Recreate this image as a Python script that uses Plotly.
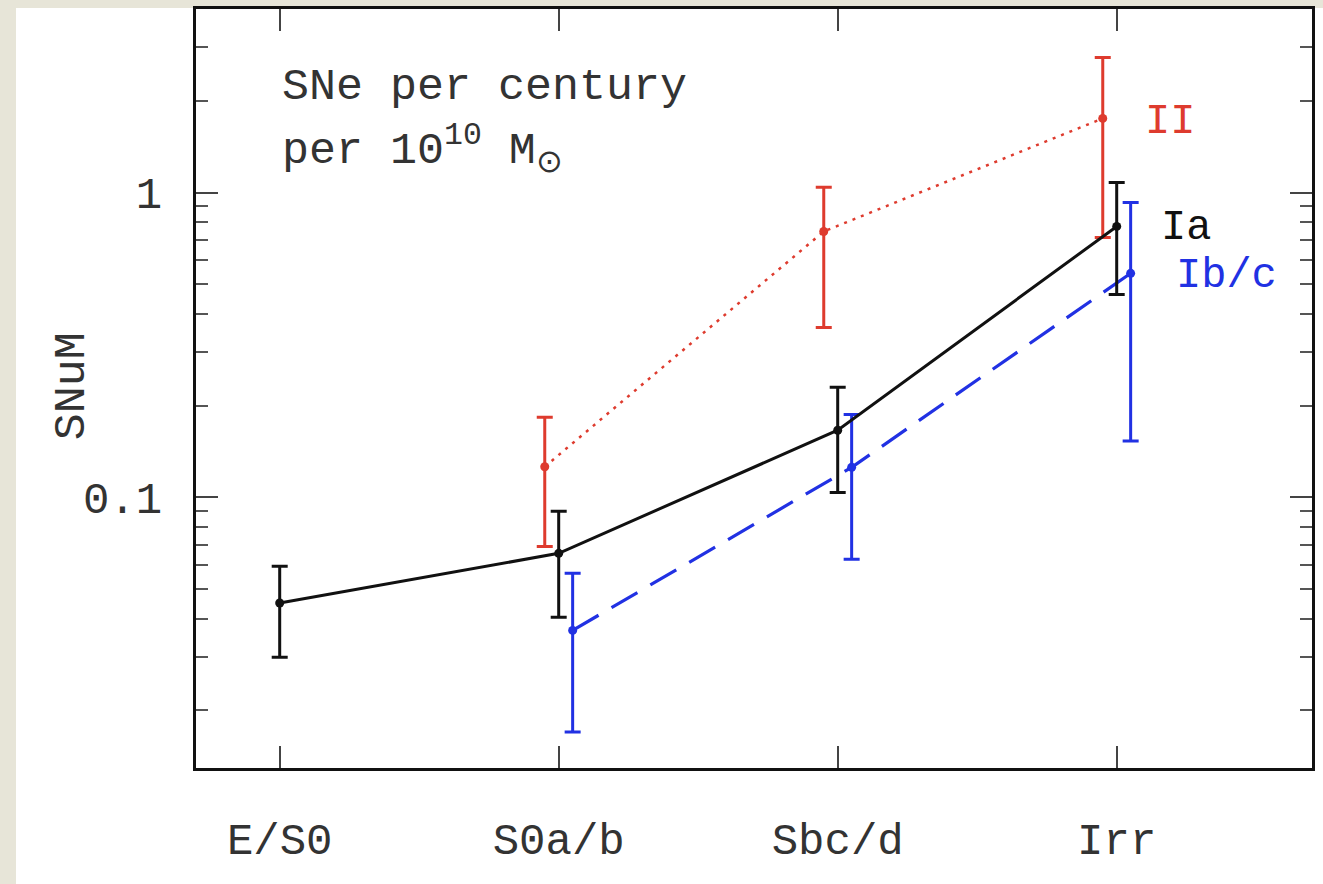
import math
import plotly.graph_objects as go

# ---- data ----
categories = ["E/S0", "S0a/b", "Sbc/d", "Irr"]

ia_vals = [0.045, 0.0655, 0.166, 0.774]
ia_hi = [0.0594, 0.090, 0.2296, 1.078]
ia_lo = [0.0299, 0.0404, 0.1038, 0.463]

ii_vals = [None, 0.126, 0.745, 1.75]
ii_hi = [None, 0.183, 1.04, 2.77]
ii_lo = [None, 0.069, 0.361, 0.712]

ibc_vals = [None, 0.0366, 0.1254, 0.543]
ibc_hi = [None, 0.0564, 0.187, 0.927]
ibc_lo = [None, 0.017, 0.0626, 0.153]

y_ticks = [0.1, 1]
y_ticktext = ["0.1", "1"]

FONT = "Liberation Mono"
RED = "#de3b2e"
BLUE = "#2131e3"
BLACK = "#111111"
TEXT = "#333333"


def series(vals, hi, lo, offset):
    xs, ys, ep, em = [], [], [], []
    for i, v in enumerate(vals):
        if v is None:
            continue
        xs.append(i + offset)
        ys.append(v)
        ep.append(hi[i] - v)
        em.append(v - lo[i])
    return xs, ys, ep, em


fig = go.Figure()

for vals, hi, lo, off, color, dash, lw, name in [
    (ii_vals, ii_hi, ii_lo, -0.05, RED, "3px,6px", 2.5, "II"),
    (ibc_vals, ibc_hi, ibc_lo, 0.05, BLUE, "30px,15px", 3.2, "Ib/c"),
    (ia_vals, ia_hi, ia_lo, 0.0, BLACK, "solid", 3, "Ia"),
]:
    xs, ys, ep, em = series(vals, hi, lo, off)
    fig.add_trace(go.Scatter(
        x=xs, y=ys, mode="lines+markers", name=name,
        line=dict(color=color, width=lw, dash=dash),
        marker=dict(color=color, size=9),
        error_y=dict(type="data", symmetric=False, array=ep, arrayminus=em,
                     color=color, thickness=3, width=8),
        showlegend=False,
    ))

# Series labels next to the last points
for vals, color, label, xshift, yshift in [
    (ii_vals, RED, "II", 26, -4),
    (ia_vals, BLACK, "Ia", 42, -2),
    (ibc_vals, BLUE, "Ib/c", 57, -3),
]:
    fig.add_annotation(x=len(categories) - 1, y=math.log10(vals[-1]),
                       text=label, showarrow=False, xanchor="left",
                       yanchor="middle", xshift=xshift, yshift=yshift,
                       font=dict(family=FONT, size=42, color=color))

fig.add_annotation(xref="paper", yref="paper", x=0.075, y=0.896,
                   text="SNe per century", showarrow=False,
                   xanchor="left", yanchor="middle",
                   font=dict(family=FONT, size=45, color=TEXT))
fig.add_annotation(xref="paper", yref="paper", x=0.075, y=0.815,
                   text="per 10<sup>10</sup> M<sub>⊙</sub>", showarrow=False,
                   xanchor="left", yanchor="middle",
                   font=dict(family=FONT, size=45, color=TEXT))

fig.add_annotation(xref="paper", yref="paper", x=-0.111, y=0.503,
                   text="SNuM", showarrow=False, textangle=-90,
                   xanchor="center", yanchor="middle",
                   font=dict(family=FONT, size=45, color=TEXT))

# white sheet over the beige page
fig.add_shape(type="rect", xref="paper", yref="paper",
              x0=-0.1613, x1=1.02, y0=-0.16, y1=1.0013,
              fillcolor="white", line=dict(width=0), layer="below")

fig.update_xaxes(
    range=[-0.3, 3.7], tickvals=list(range(len(categories))),
    ticktext=categories, ticks="inside", ticklen=22, tickwidth=2,
    tickcolor="#444444", showline=True, linecolor=BLACK, linewidth=3,
    mirror="allticks", showgrid=False, zeroline=False, automargin=False,
    ticklabelstandoff=30,
    tickfont=dict(family=FONT, size=44, color=TEXT),
)
fig.update_yaxes(
    type="log", range=[-1.888, 0.602], tickvals=y_ticks,
    ticktext=y_ticktext, ticks="inside", ticklen=22, tickwidth=2,
    tickcolor="#444444", showline=True, linecolor=BLACK, linewidth=3,
    mirror="allticks", showgrid=False, zeroline=False, automargin=False,
    ticklabelstandoff=22,
    minor=dict(ticks="inside", ticklen=12, tickwidth=2, tickcolor="#555555",
               dtick="D1", showgrid=False),
    tickfont=dict(family=FONT, size=44, color=TEXT),
)

fig.update_layout(
    width=1323, height=884,
    margin=dict(l=196, r=11, t=9, b=116),
    paper_bgcolor="#e7e5d8", plot_bgcolor="white",
)

fig.write_html(
    "out.html",
    config={"displayModeBar": False},
    post_script="document.body.style.margin='0';"
                "document.body.style.overflow='hidden';"
                "document.body.style.background='#e7e5d8';",
)
